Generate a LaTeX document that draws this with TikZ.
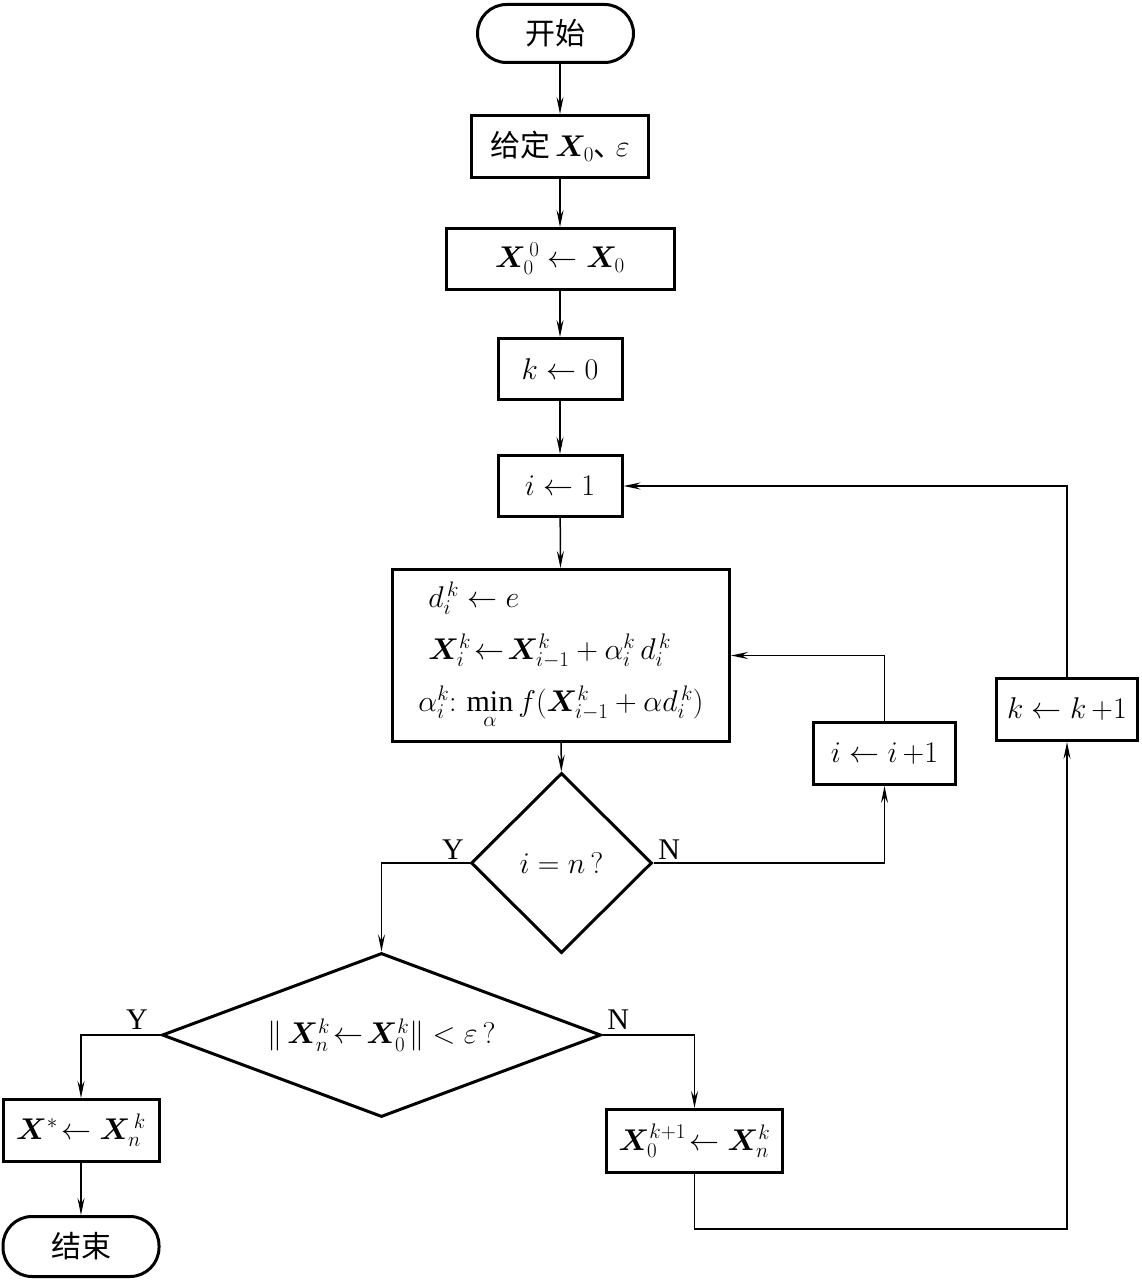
\RequirePackage{fix-cm}
\documentclass[tikz,border=0pt]{standalone}
\usepackage{amsmath}
\usepackage{bm}
\usepackage{fontspec}
\setmainfont{Liberation Serif}
\newfontfamily\cjk{Noto Sans CJK SC}
\usetikzlibrary{shapes.geometric,arrows.meta,calc}
\begin{document}
\begin{tikzpicture}[x=1pt,y=-1pt,
  every node/.style={font=\fontsize{30}{36}\selectfont},
  box/.style={draw, line width=3pt, inner sep=0pt},
  term/.style={draw, line width=3pt, inner sep=0pt, rounded corners=29pt},
  dia/.style={draw, diamond, line width=3pt, inner sep=0pt},
  conn/.style={line width=1.5pt, -{Stealth[length=17pt,width=7pt,inset=6pt]}},
  lbl/.style={inner sep=0pt, font=\fontsize{30}{36}\selectfont}]
\useasboundingbox (0,0) rectangle (1141,1281);
% nodes
\node[term, minimum width=156, minimum height=58] (start) at (555.5,33.5) {\cjk 开始};
\node[box, minimum width=177, minimum height=62] (given) at (560,146.5) {{\cjk 给定}\,$\bm X_0${\cjk 、}\kern-8pt$\varepsilon$};
\node[box, minimum width=228, minimum height=61] (init) at (560,259) {$\bm X_0^{\,0}\leftarrow \bm X_0$};
\node[box, minimum width=124, minimum height=61] (k0) at (560,369) {$k\leftarrow 0$};
\node[box, minimum width=124, minimum height=61] (i1) at (560,486) {$i\leftarrow 1$};
\node[box, minimum width=337, minimum height=172, align=left, font=\fontsize{30}{52}\selectfont] (main) at (561,655.5)
  {\hspace{10pt}$d_i^{\,k}\leftarrow e$\\
   \hspace{10pt}$\bm X_i^k\!\leftarrow\!\bm X_{i-1}^k+\alpha_i^k\,d_i^{\,k}$\\
   $\alpha_i^k{:}\,\min\limits_{\alpha} f(\bm X_{i-1}^k+\alpha d_i^{\,k})$};
\node[dia, minimum width=181, minimum height=180] (d1) at (561.5,863) {$i=n\,?$};
\node[box, minimum width=142, minimum height=62] (inc) at (884.5,753.5) {$i\leftarrow i\,{+}1$};
\node[box, minimum width=141, minimum height=62] (kinc) at (1067,709.5) {$k\leftarrow k\,{+}1$};
\node[dia, aspect=2.68, minimum width=439, minimum height=164] (d2) at (381.5,1035) {$\|\,\bm X_n^k\!\leftarrow\!\bm X_0^k\| < \varepsilon\,?$};
\node[box, minimum width=156, minimum height=62] (res) at (81,1130.5) {$\bm X^*\!\leftarrow\bm X_n^{\,k}$};
\node[term, minimum width=156, minimum height=60] (end) at (81,1246.5) {\cjk 结束};
\node[box, minimum width=176, minimum height=63] (next) at (694.5,1141) {$\bm X_0^{k+1}\!\leftarrow\bm X_n^k$};
% connectors
\draw[conn] (start.south -| given.north) -- (given.north);
\draw[conn] (given) -- (init);
\draw[conn] (init) -- (k0);
\draw[conn] (k0) -- (i1);
\draw[conn] (i1) -- (main);
\draw[conn] (main) -- (d1);
\draw[conn] (d1.west) node[lbl, anchor=south east, xshift=-5pt, yshift=3pt] {Y} -| (d2.north);
\draw[conn] (d1.east) node[lbl, anchor=south west, xshift=4pt, yshift=3pt] {N} -| (inc.south);
\draw[conn] (inc.north) |- (main.east);
\draw[conn] (d2.west) node[lbl, anchor=south east, xshift=-12pt, yshift=5pt] {Y} -| (res.north);
\draw[conn] (d2.east) node[lbl, anchor=south west, xshift=4pt, yshift=5pt] {N} -| (next.north);
\draw[conn] (res) -- (end);
\draw[conn] (next.south) -- ++(0,55) -| (kinc.south);
\draw[conn] (kinc.north) |- (i1.east);
\end{tikzpicture}
\end{document}
